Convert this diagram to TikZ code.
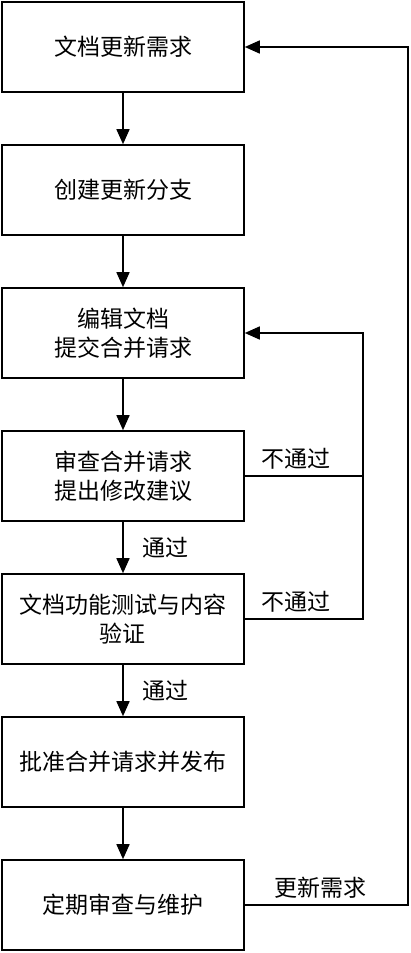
\documentclass[tikz,border=0pt]{standalone}
\usepackage{fontspec}
\setmainfont{Noto Sans CJK SC}
\usetikzlibrary{positioning}
\usetikzlibrary{arrows.meta}

\begin{document}
\begin{tikzpicture}[x=1pt,y=1pt,node distance=51.4pt,
  stage/.style={draw,line width=1.6pt,minimum width=242pt,minimum height=90pt,
    align=center,font=\fontsize{23}{29}\selectfont},
  flow/.style={line width=1.6pt,-{Triangle[length=15pt,width=13pt]}},
  note/.style={inner sep=2pt,font=\fontsize{23}{29}\selectfont}]
\useasboundingbox (0,0) rectangle (410,-953);
\node[stage] (req) at (123,-47) {文档更新需求};
\node[stage,below=of req] (branch) {创建更新分支};
\node[stage,below=of branch] (edit) {编辑文档\\提交合并请求};
\node[stage,below=of edit] (check) {审查合并请求\\提出修改建议};
\node[stage,below=of check] (test) {文档功能测试与内容\\验证};
\node[stage,below=of test] (merge) {批准合并请求并发布};
\node[stage,below=of merge] (maint) {定期审查与维护};
\draw[flow] (req) -- (branch);
\draw[flow] (branch) -- (edit);
\draw[flow] (edit) -- (check);
\draw[flow] (check) -- node[note,right=17pt] {通过} (test);
\draw[flow] (test) -- node[note,right=17pt] {通过} (merge);
\draw[flow] (merge) -- (maint);
\coordinate (loop) at (363,0);
\coordinate (back) at (408,0);
\draw[flow] (check.east) -- node[note,above=4pt,xshift=-8pt] {不通过} (check.east -| loop) |- (edit.east);
\draw[line width=1.6pt] (test.east) -- node[note,above=4pt,xshift=-8pt] {不通过} (test.east -| loop) -- (check.east -| loop);
\draw[flow] (maint.east) -- node[note,above=4pt,xshift=-6pt] {更新需求} (maint.east -| back) |- (req.east);
\end{tikzpicture}
\end{document}
